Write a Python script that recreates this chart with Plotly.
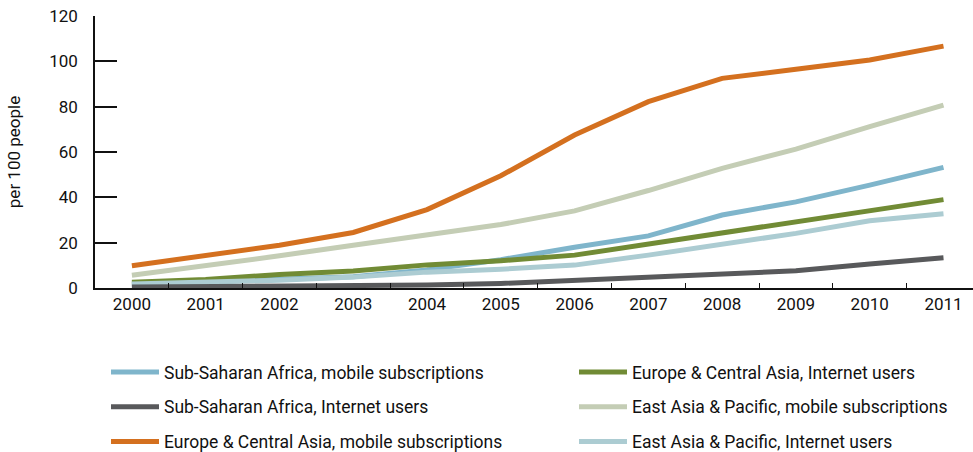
import plotly.graph_objects as go

years = list(range(2000, 2012))
ssa_mobile = [1.7, 2.8, 4.0, 5.0, 8.0, 12.5, 18.0, 23.0, 32.2, 38.0, 45.4, 53.2]
ssa_internet = [0.4, 0.6, 0.8, 1.0, 1.3, 2.0, 3.5, 4.5, 6.5, 7.6, 10.6, 13.3]
eca_mobile = [9.8, 14.4, 18.9, 24.5, 34.6, 49.5, 67.5, 82.2, 92.5, 96.5, 100.6, 106.7]
eca_internet = [2.5, 3.7, 6.0, 7.5, 10.2, 12.0, 14.5, 19.4, 24.1, 28.8, 33.7, 39.0]
eap_mobile = [5.6, 9.7, 14.2, 18.9, 23.6, 28.0, 34.0, 43.0, 52.8, 61.3, 71.2, 80.7]
eap_internet = [1.8, 2.4, 3.4, 4.8, 7.0, 8.3, 10.1, 14.5, 19.3, 24.1, 29.7, 32.8]

names = [
    "Sub-Saharan Africa, mobile subscriptions",
    "Sub-Saharan Africa, Internet users",
    "Europe & Central Asia, mobile subscriptions",
    "Europe & Central Asia, Internet users",
    "East Asia & Pacific, mobile subscriptions",
    "East Asia & Pacific, Internet users",
]
colors = ["#7fb5cb", "#58595b", "#d4701f", "#718b35", "#c4cdb5", "#acccd2"]
series = [ssa_mobile, ssa_internet, eca_mobile, eca_internet, eap_mobile, eap_internet]
legends = ["legend", "legend", "legend", "legend2", "legend2", "legend2"]
draw_order = [4, 2, 0, 3, 5, 1]

FONT = "Roboto, sans-serif"
W, H = 973, 452
L, R, T, B = 95, 0, 16, 164
PW, PH = W - L - R, H - T - B

fig = go.Figure()
for i in draw_order:
    fig.add_trace(go.Scatter(
        x=years, y=series[i], name=names[i], mode="lines",
        line=dict(color=colors[i], width=5),
        legend=legends[i], legendgroup=names[i], legendrank=i,
    ))

def leg(px_x, px_y):
    return dict(x=(px_x - L) / PW, y=(H - B - px_y) / PH, xanchor="left", yanchor="top",
                tracegroupgap=9, font=dict(size=17.5), bgcolor="rgba(0,0,0,0)",
                itemwidth=48)

fig.update_layout(
    width=W, height=H,
    margin=dict(l=L, r=R, t=T, b=B, autoexpand=False),
    plot_bgcolor="white", paper_bgcolor="white",
    font=dict(family=FONT, size=17, color="#111111"),
    showlegend=True,
    legend=leg(106, 354),
    legend2=leg(574, 354),
)
fig.update_xaxes(
    range=[1999.5, 2011.4], tickmode="array", tickvals=years,
    ticktext=[str(y) for y in years], ticks="", showgrid=False, zeroline=False,
    showline=True, linecolor="#111111", linewidth=1.5,
    minor=dict(tickmode="array", tickvals=[y + 0.5 for y in years[:-1]], ticks="inside",
               ticklen=5, tickcolor="#111111", tickwidth=1.2, showgrid=False),
    tickfont=dict(size=17), ticklabeloverflow="allow",
)
fig.update_yaxes(
    range=[0, 120], tickvals=[0, 20, 40, 60, 80, 100, 120], ticks="inside", ticklen=22,
    tickcolor="#111111", tickwidth=1.5, showgrid=False, zeroline=False,
    showline=True, linecolor="#111111", linewidth=1.5, ticklabelstandoff=12,
    ticklabeloverflow="allow",
    title=dict(text="per 100 people", standoff=24, font=dict(size=17)),
    tickfont=dict(size=17),
)
fig.write_html("out.html", config={"displayModeBar": False},
               post_script="document.body.style.margin='0';")
